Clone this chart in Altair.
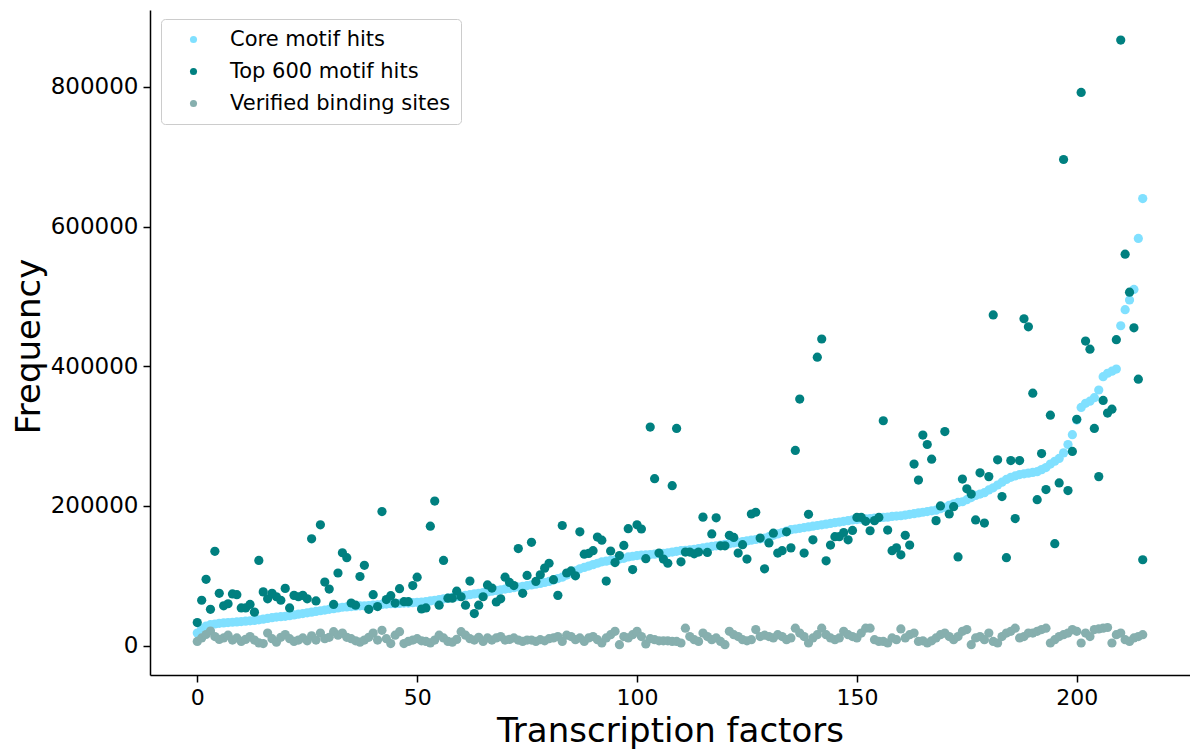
import altair as alt
import pandas as pd

core = [18000, 24000, 28000, 30000, 31000, 32000, 32500, 33000, 33500, 34000,
        34500, 35000, 35500, 36000, 37000, 38000, 39000, 40000, 41000, 41500,
        42000, 43000, 44000, 45000, 46000, 47000, 48000, 49000, 50000, 51000,
        52000, 53000, 54000, 55000, 55500, 56000, 56500, 57000, 57000, 57500,
        58000, 58500, 59000, 59500, 60000, 60000, 60500, 61000, 61000, 61500,
        62000, 62500, 63000, 64000, 65000, 66000, 67000, 68000, 69000, 70000,
        71000, 72000, 73000, 74000, 75000, 76000, 77000, 78000, 79000, 80000,
        81000, 82000, 83000, 84000, 85000, 86000, 87000, 88000, 89000, 90500,
        92000, 94000, 96000, 98000, 101000, 104000, 107000, 110000, 112000, 114000,
        116000, 118000, 120000, 121000, 122000, 123000, 124000, 125000, 127000, 128000,
        129000, 129500, 130000, 130500, 131000, 131500, 132000, 133000, 134000, 135000,
        136000, 136500, 137000, 138000, 139000, 140000, 141000, 142000, 143000, 144000,
        145000, 146000, 147000, 148000, 149000, 150000, 151000, 152000, 153000, 154000,
        156000, 158000, 160000, 162000, 164000, 166000, 167000, 168000, 169000, 170000,
        171000, 172000, 173000, 174000, 175000, 176000, 177000, 178000, 179000, 180000,
        180500, 181000, 181500, 182000, 182500, 183000, 183500, 184000, 185000, 185500,
        186000, 187000, 188000, 189000, 190000, 191000, 192000, 193000, 194000, 196000,
        198000, 201000, 203000, 205000, 206000, 209000, 212000, 215000, 217000, 219000,
        223000, 226000, 230000, 234000, 238000, 241000, 243000, 245000, 246000, 247000,
        248000, 249000, 252000, 255000, 260000, 264000, 268000, 276000, 288000, 302000,
        323000, 341000, 347000, 350000, 355000, 366000, 385000, 390000, 393000, 396000,
        458000, 481000, 495000, 510000, 583000, 640000]

top600 = [33000, 65000, 95000, 52000, 135000, 75000, 57000, 60000, 74000, 73000,
          54000, 54000, 59000, 48000, 122000, 77000, 67000, 75000, 70000, 65000,
          82000, 54000, 72000, 70000, 72000, 67000, 153000, 64000, 173000, 91000,
          81000, 59000, 104000, 133000, 126000, 61000, 58000, 99000, 115000, 52000,
          73000, 56000, 192000, 66000, 71500, 61000, 81500, 63000, 63000, 86000,
          98000, 52500, 54000, 171000, 207000, 58000, 122000, 68000, 68000, 78000,
          70000, 58000, 92500, 46000, 58000, 70000, 87000, 82500, 62500, 67000,
          98000, 90500, 86000, 139000, 75000, 100500, 148000, 92000, 101500, 111000,
          118000, 94500, 72000, 172000, 104000, 107000, 100000, 163000, 131000, 132000,
          136000, 155500, 151000, 92500, 135500, 119000, 129000, 143500, 167500, 109000,
          173000, 167000, 124500, 313000, 239000, 132500, 124000, 118000, 229000, 311000,
          120000, 134000, 134000, 131500, 134000, 184000, 133500, 160000, 183000, 143000,
          143000, 158000, 155000, 132500, 144500, 124000, 188500, 191000, 154000, 110000,
          147000, 161000, 132500, 136000, 163000, 140000, 279500, 353000, 132500, 188000,
          151500, 413000, 439000, 121500, 144000, 156000, 156000, 162000, 151500, 165000,
          183500, 183500, 178000, 164500, 179000, 183500, 322000, 165500, 136000, 140000,
          130000, 158000, 144000, 260000, 237000, 301500, 288000, 267000, 179000, 200000,
          306500, 188500, 199000, 127000, 238500, 224500, 217000, 180000, 247500, 175500,
          242000, 473500, 266000, 213500, 126000, 265000, 182000, 265000, 468000, 456500,
          361500, 209000, 275000, 223500, 330000, 146000, 233000, 696000, 222000, 278000,
          324000, 792000, 436000, 424500, 311000, 242000, 351000, 333000, 338500, 438000,
          867000, 560500, 506000, 455000, 381500, 123000]

verified = [6000, 11000, 16000, 21000, 13000, 9000, 11000, 15000, 8000, 11000,
            6000, 9000, 13000, 8000, 4000, 3000, 18000, 10000, 5000, 12000,
            16000, 10000, 6000, 8000, 11000, 7000, 14000, 8000, 18000, 10000,
            12000, 20000, 15000, 18000, 12000, 10000, 7000, 5000, 8000, 12000,
            18000, 8000, 22000, 10000, 3000, 15000, 20000, 3000, 6000, 8000,
            10000, 7000, 6000, 4000, 8000, 15000, 11000, 6000, 5000, 9000,
            20000, 15000, 10000, 8000, 12000, 6000, 11000, 8000, 11000, 13000,
            8000, 9000, 11000, 8000, 6000, 8000, 8000, 6000, 8600, 7000,
            10000, 11000, 13000, 6000, 15000, 13000, 8600, 11000, 6000, 11000,
            13000, 8600, 3800, 11000, 15700, 20500, 1400, 13000, 11000, 15700,
            20500, 13000, 2500, 10000, 8600, 7000, 7000, 7000, 6000, 6000,
            3800, 25000, 13000, 8600, 6000, 18000, 13000, 8600, 11000, 6000,
            1400, 20500, 15700, 13000, 8600, 7000, 8600, 23000, 13000, 15000,
            13000, 11000, 15700, 13000, 8600, 11000, 25000, 18000, 13000, 3800,
            11000, 15700, 25000, 15700, 11000, 8600, 11000, 20500, 15700, 13000,
            11000, 18000, 25000, 25000, 8600, 6000, 6000, 3800, 11000, 8600,
            24000, 11000, 15700, 18000, 6000, 7000, 3800, 7000, 11000, 15700,
            18000, 13000, 8600, 13000, 20500, 23000, 1400, 11000, 13000, 8600,
            18000, 6000, 3800, 13000, 18000, 20500, 25000, 11000, 13000, 18000,
            18000, 20500, 23000, 25000, 3800, 8600, 13000, 15700, 18000, 23000,
            20500, 3800, 18000, 13000, 23000, 24000, 25000, 26000, 3800, 15700,
            18000, 8600, 6000, 11000, 13000, 15700]

series_names = ["Core motif hits", "Top 600 motif hits", "Verified binding sites"]
series_colors = ["#80E0FF", "#008080", "#86AFAE"]

rows = []
for name, vals in zip(series_names, [core, top600, verified]):
    for i, v in enumerate(vals):
        rows.append({"tf": i, "freq": v, "series": name})
df = pd.DataFrame(rows)

font = "DejaVu Sans"

chart = alt.Chart(df).mark_circle(size=85, opacity=1).encode(
    x=alt.X("tf:Q",
            scale=alt.Scale(domain=[-10.75, 225.75], nice=False, zero=False),
            axis=alt.Axis(values=[0, 50, 100, 150, 200], title="Transcription factors",
                          titleFontSize=34, titleFontWeight="normal",
                          titleBaseline="alphabetic", titleY=66,
                          labelFontSize=22, labelPadding=5, format="d")),
    y=alt.Y("freq:Q",
            scale=alt.Scale(domain=[-42000, 910000], nice=False, zero=False),
            axis=alt.Axis(values=[0, 200000, 400000, 600000, 800000], title="Frequency",
                          titleFontSize=34, titleFontWeight="normal",
                          titleBaseline="alphabetic", titleX=-111, titleY=336,
                          labelFontSize=23, labelPadding=5, format="d")),
    color=alt.Color("series:N",
                    scale=alt.Scale(domain=series_names, range=series_colors),
                    legend=alt.Legend(title=None, orient="none", legendX=11, legendY=9,
                                      symbolType="circle", symbolSize=50,
                                      labelFontSize=21, labelOffset=26, labelLimit=0,
                                      symbolOffset=12, padding=10, rowPadding=10,
                                      strokeColor="#cccccc", fillColor="white",
                                      cornerRadius=4)),
).properties(
    width=1040, height=665,
    autosize=alt.AutoSizeParams(type="none"),
    padding={"left": 150, "top": 10, "right": 0, "bottom": 74},
).configure(font=font).configure_view(stroke=None).configure_axis(
    grid=False, domainColor="black", domainWidth=1.5, tickColor="black",
    tickWidth=1.5, tickSize=7, labelColor="black", titleColor="black",
    labelFont=font, titleFont=font
).configure_legend(labelFont=font, labelColor="black")

chart.save("out.html", embed_options={"renderer": "svg", "actions": False})
